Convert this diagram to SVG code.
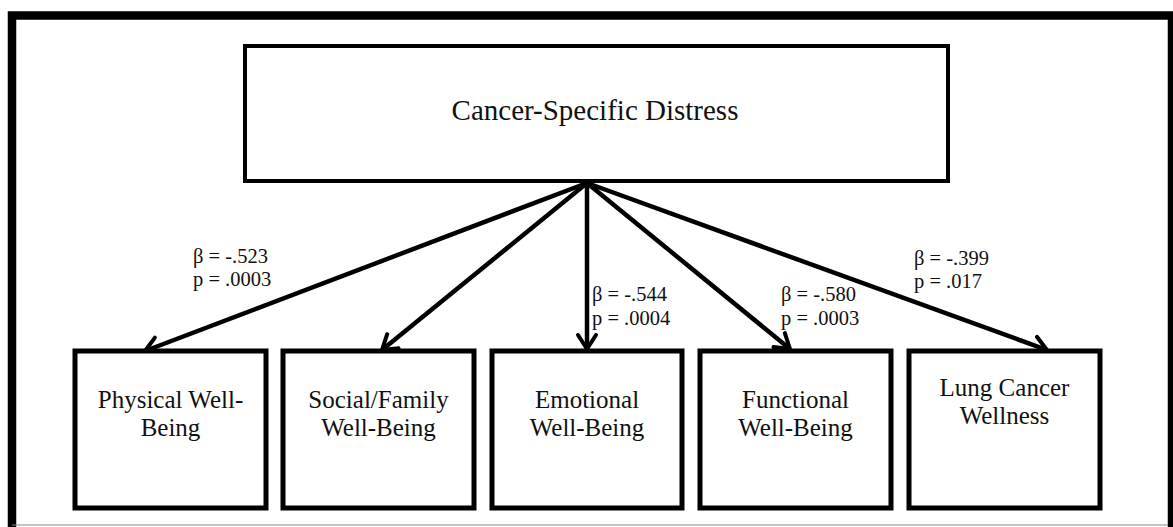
<svg xmlns="http://www.w3.org/2000/svg" width="1173" height="527" viewBox="0 0 1173 527">
  <defs>
    <marker id="arr" markerUnits="userSpaceOnUse" markerWidth="30" markerHeight="30" refX="17" refY="11" orient="auto" viewBox="0 0 30 22">
      <path d="M3,2 L17,11 L3,20" fill="none" stroke="#000" stroke-width="4" stroke-linecap="round" stroke-linejoin="round"/>
    </marker>
  </defs>
  <style>
    .box { fill: #fff; stroke: #000; stroke-width: 5; }
    .top { fill: #fff; stroke: #000; stroke-width: 4; }
    .lbl { font-family: "Liberation Serif", "Times New Roman", serif; font-size: 25px; fill: #111; text-anchor: middle; }
    .title { font-family: "Liberation Serif", "Times New Roman", serif; font-size: 29px; fill: #111; text-anchor: middle; }
    .coef { font-family: "Liberation Serif", "Times New Roman", serif; font-size: 20.5px; fill: #111; }
    .conn { stroke: #000; stroke-width: 4.5; fill: none; marker-end: url(#arr); }
  </style>
  <rect width="1173" height="527" fill="#fff"/>
  <path d="M12,527 L12,15.5 L1172,15.5 L1172,527" fill="none" stroke="#000" stroke-width="8.5"/>
  <line x1="12" y1="525" x2="1168" y2="525" stroke="#888" stroke-width="1.2"/>

  <g id="node-distress">
    <rect class="top" x="245" y="46" width="703" height="135"/>
    <text class="title" x="595" y="120">Cancer-Specific Distress</text>
  </g>

  <g id="connectors">
    <line class="conn" x1="587" y1="183" x2="145" y2="351"/>
    <line class="conn" x1="587" y1="183" x2="382" y2="350"/>
    <line class="conn" x1="587" y1="183" x2="587" y2="349"/>
    <line class="conn" x1="587" y1="183" x2="790" y2="349"/>
    <line class="conn" x1="587" y1="183" x2="1047" y2="350"/>
  </g>

  <g id="labels">
    <text class="coef" x="193" y="263">β = -.523</text>
    <text class="coef" x="193" y="286">p = .0003</text>
    <text class="coef" x="592" y="301">β = -.544</text>
    <text class="coef" x="592" y="325">p = .0004</text>
    <text class="coef" x="781" y="301">β = -.580</text>
    <text class="coef" x="781" y="325">p = .0003</text>
    <text class="coef" x="914" y="265">β = -.399</text>
    <text class="coef" x="914" y="288">p = .017</text>
  </g>

  <g id="node-physical">
    <rect class="box" x="75" y="351" width="191" height="157"/>
    <text class="lbl" x="170.5" y="408">Physical Well-</text>
    <text class="lbl" x="170.5" y="436">Being</text>
  </g>
  <g id="node-social">
    <rect class="box" x="283" y="351" width="191" height="157"/>
    <text class="lbl" x="378.5" y="408">Social/Family</text>
    <text class="lbl" x="378.5" y="436">Well-Being</text>
  </g>
  <g id="node-emotional">
    <rect class="box" x="492" y="351" width="190" height="157"/>
    <text class="lbl" x="587" y="408">Emotional</text>
    <text class="lbl" x="587" y="436">Well-Being</text>
  </g>
  <g id="node-functional">
    <rect class="box" x="700" y="351" width="191" height="157"/>
    <text class="lbl" x="795.5" y="408">Functional</text>
    <text class="lbl" x="795.5" y="436">Well-Being</text>
  </g>
  <g id="node-lung">
    <rect class="box" x="909" y="351" width="191" height="157"/>
    <text class="lbl" x="1004.5" y="396">Lung Cancer</text>
    <text class="lbl" x="1004.5" y="424">Wellness</text>
  </g>
</svg>
